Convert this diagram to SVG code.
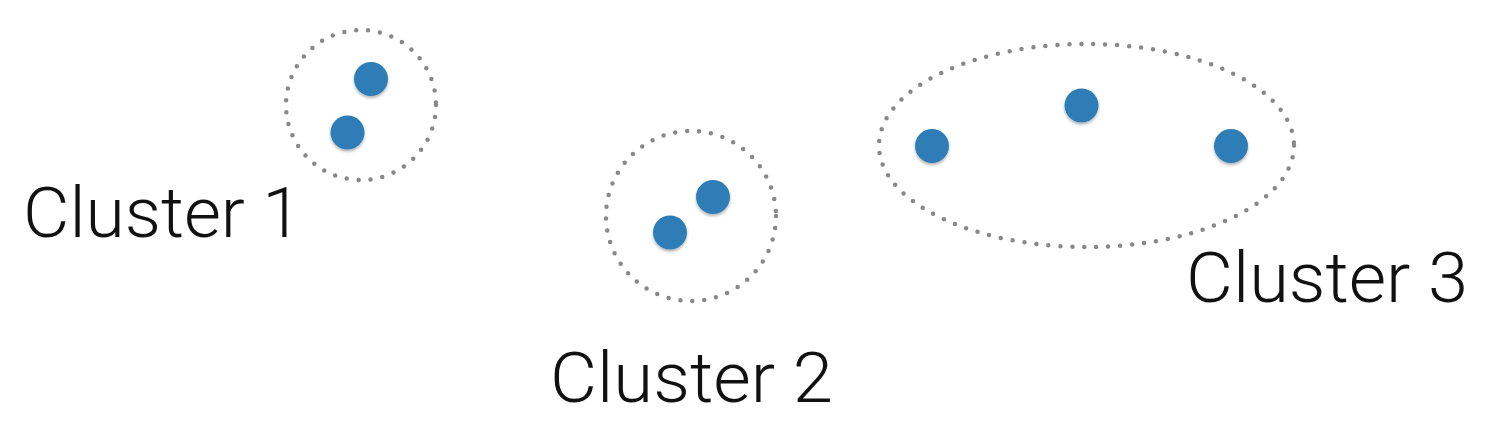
<svg xmlns="http://www.w3.org/2000/svg" width="1508" height="446" viewBox="0 0 1508 446">
<style>
.ring{fill:none;stroke:#888;stroke-width:4.5;stroke-linecap:round;stroke-dasharray:0 12}
.pt{fill:#2f7db6;filter:url(#sh)}
.lbl{font-family:Roboto,"Liberation Sans",Arial,sans-serif;font-weight:300;font-size:70px;fill:#111}
</style>
<defs>
<filter id="sh" x="-30%" y="-30%" width="160%" height="170%">
<feDropShadow dx="0" dy="2" stdDeviation="1.5" flood-color="#000" flood-opacity="0.3"/>
</filter>
</defs>
<rect width="1508" height="446" fill="#fff"/>
<g id="cluster1">
<circle class="ring" cx="361" cy="105" r="75"/>
<circle class="pt" cx="371" cy="79" r="17"/>
<circle class="pt" cx="347.5" cy="132.5" r="17"/>
<text class="lbl" x="23" y="237" textLength="279" lengthAdjust="spacingAndGlyphs">Cluster 1</text>
</g>
<g id="cluster2">
<circle class="ring" cx="691" cy="216" r="85"/>
<circle class="pt" cx="713" cy="197" r="17"/>
<circle class="pt" cx="670" cy="232.5" r="17"/>
<text class="lbl" x="550" y="402" textLength="283" lengthAdjust="spacingAndGlyphs">Cluster 2</text>
</g>
<g id="cluster3">
<ellipse class="ring" cx="1086.5" cy="145.5" rx="207.5" ry="101.5"/>
<circle class="pt" cx="932" cy="146" r="17"/>
<circle class="pt" cx="1081.5" cy="105.5" r="17"/>
<circle class="pt" cx="1231" cy="146" r="17"/>
<text class="lbl" x="1186" y="302" textLength="282" lengthAdjust="spacingAndGlyphs">Cluster 3</text>
</g>
<g id="connectors"></g>
</svg>
